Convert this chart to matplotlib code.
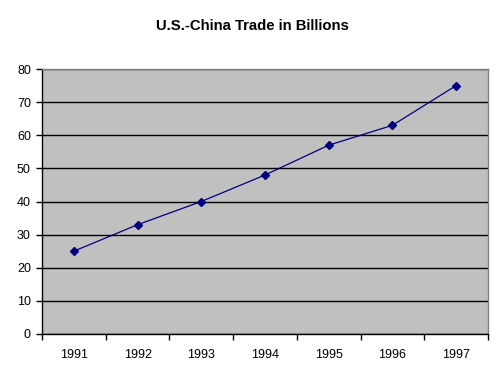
import numpy as np
import matplotlib
matplotlib.use('Agg')
import matplotlib.pyplot as plt

plt.rcParams['font.family'] = ['Liberation Sans', 'DejaVu Sans']

years = ['1991', '1992', '1993', '1994', '1995', '1996', '1997']
trade = [25, 33, 40, 48, 57, 63, 75]

fig = plt.figure(figsize=(5.04, 3.82), dpi=100)
ax = fig.add_axes([42 / 504, 48 / 382, 446 / 504, 265 / 382])
ax.set_facecolor('#C0C0C0')

x = np.arange(len(years))
ax.plot(x, trade, color='#000080', linewidth=0.9, marker='D', markersize=4.5,
        markerfacecolor='#000080', markeredgecolor='#000080', zorder=3)

ax.set_ylim(0, 80)
ax.set_yticks(range(0, 81, 10))
ax.yaxis.grid(True, color='black', linewidth=1)
ax.set_axisbelow(True)

ax.set_xlim(-0.5, len(years) - 0.5)
ax.set_xticks(np.arange(len(years) + 1) - 0.5)
ax.set_xticklabels([])
ax.set_xticks(x, minor=True)
ax.set_xticklabels(years, minor=True)
ax.tick_params(axis='x', which='minor', length=0, pad=11, labelsize=9)
ax.tick_params(axis='x', which='major', length=4, width=1, color='black')
ax.tick_params(axis='y', length=4, width=1, labelsize=9, pad=4)

for s in ['top', 'right']:
    ax.spines[s].set_color('#808080')
    ax.spines[s].set_linewidth(1)
for s in ['left', 'bottom']:
    ax.spines[s].set_color('black')
    ax.spines[s].set_linewidth(1)

fig.text(0.5, 1 - 26 / 382, 'U.S.-China Trade in Billions', ha='center', va='center',
         fontsize=10.7, fontweight='bold')

fig.savefig('out.png', dpi=100)
